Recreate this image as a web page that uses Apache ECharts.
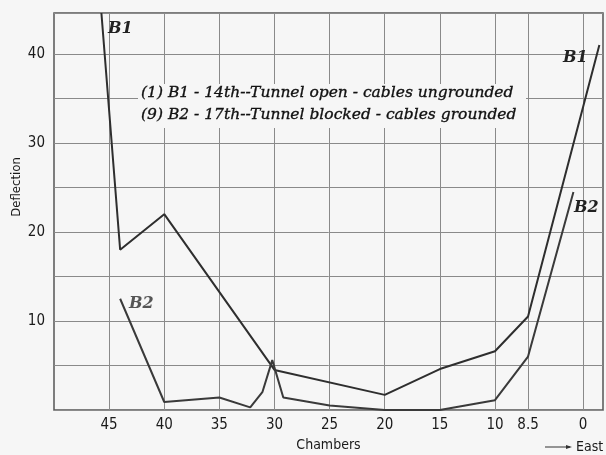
<!DOCTYPE html>
<html><head><meta charset="utf-8">
<script src="https://cdn.jsdelivr.net/npm/echarts@6/dist/echarts.min.js"></script>
<style>html,body{margin:0;padding:0;background:#f6f6f6}#chart{width:606px;height:455px}</style>
</head><body><div id="chart"></div>
<script>
// Chamber numbers labelled along the bottom axis (west -> east)
const chamberTicks = [45, 40, 35, 30, 25, 20, 15, 10, 8.5, 0];
const deflectionLabels = [10, 20, 30, 40];

// B1 - 14th, tunnel open, cables ungrounded
const b1Chambers   = [45.7, 44, 40, 30, 20, 15, 10, 8.5, -2.5];
const b1Deflection = [44.6, 18, 22, 4.5, 1.7, 4.6, 6.6, 10.5, 41];

// B2 - 17th, tunnel blocked, cables grounded
const b2Chambers   = [44, 40, 35, 32.2, 31.1, 30.2, 29.2, 25, 20, 15, 10, 8.5, 1.5];
const b2Deflection = [12.5, 0.9, 1.4, 0.3, 2.0, 5.6, 1.4, 0.5, 0, 0, 1.1, 6.0, 24.5];

// The chamber scale is broken: uniform 5-chamber columns down to 10,
// then a short step to 8.5 and one column from 8.5 to 0.
const scaleKnots = [[50, 0], [10, 8], [8.5, 8.6], [0, 9.6]];
function chamberPos(c) {
  for (let i = 0; i < scaleKnots.length - 1; i++) {
    const [c0, p0] = scaleKnots[i], [c1, p1] = scaleKnots[i + 1];
    if (c >= c1 || i === scaleKnots.length - 2) {
      return p0 + (c0 - c) * (p1 - p0) / (c0 - c1);
    }
  }
}
const tickPos = chamberTicks.map(chamberPos);
function tickLabel(v) {
  const i = tickPos.findIndex(p => Math.abs(p - v) < 1e-6);
  return i >= 0 ? String(chamberTicks[i]) : '';
}
const toPoints = (cs, ds) => cs.map((c, i) => [chamberPos(c), ds[i]]);

const axisFont = '"Liberation Sans Narrow", "DejaVu Sans Condensed", "Roboto", sans-serif';
const serif = '"DejaVu Serif", "Liberation Serif", serif';
const gridColor = '#8a8a8a';
const noteStyle = { font: 'italic 15.5px ' + serif, fill: '#111', stroke: '#111', lineWidth: 0.35, textVerticalAlign: 'middle' };

const chart = echarts.init(document.getElementById('chart'), null, { renderer: 'canvas' });
chart.setOption({
  backgroundColor: '#f6f6f6',
  animation: false,
  grid: { left: 54, right: 3, top: 13, bottom: 45, outerBoundsMode: 'none', containLabel: false,
          show: true, borderColor: '#555', borderWidth: 1.5, backgroundColor: 'transparent' },
  xAxis: {
    type: 'value', min: 0, max: 9.96,
    axisLine: { show: false },
    axisTick: { show: false, customValues: tickPos },
    axisLabel: { customValues: tickPos, formatter: tickLabel, color: '#1a1a1a', fontFamily: axisFont, fontSize: 15, margin: 8 },
    splitLine: { show: true, lineStyle: { color: gridColor, width: 1 } },
    name: 'Chambers', nameLocation: 'middle', nameGap: 28,
    nameTextStyle: { color: '#1a1a1a', fontFamily: axisFont, fontSize: 14 }
  },
  yAxis: {
    type: 'value', min: 0, max: 44.6, interval: 5,
    axisLine: { show: false }, axisTick: { show: false },
    axisLabel: { formatter: v => deflectionLabels.includes(v) ? String(v) : '', color: '#1a1a1a', fontFamily: axisFont, fontSize: 15, margin: 9 },
    splitLine: { show: true, lineStyle: { color: gridColor, width: 1 } }
  },
  series: [
    { name: 'B1', type: 'line', data: toPoints(b1Chambers, b1Deflection), symbol: 'none', clip: true,
      lineStyle: { color: '#2e2e2e', width: 2 }, z: 3 },
    { name: 'B2', type: 'line', data: toPoints(b2Chambers, b2Deflection), symbol: 'none', clip: true,
      lineStyle: { color: '#3a3a3a', width: 2 }, z: 3 }
  ],
  graphic: [
    { type: 'text', x: 17, y: 187, rotation: Math.PI / 2,
      style: { text: 'Deflection', font: '13px ' + axisFont, fill: '#1a1a1a', textAlign: 'center', textVerticalAlign: 'middle' }, z: 11 },
    { type: 'rect', shape: { x: 138, y: 84, width: 388, height: 44 }, style: { fill: '#f6f6f6' }, z: 10 },
    { type: 'text', x: 141, y: 93, style: Object.assign({ text: '(1) B1 - 14th--Tunnel open - cables ungrounded' }, noteStyle), z: 11 },
    { type: 'text', x: 141, y: 115, style: Object.assign({ text: '(9) B2 - 17th--Tunnel blocked - cables grounded' }, noteStyle), z: 11 },
    { type: 'text', x: 108, y: 29, style: { text: 'B1', font: 'italic bold 16px ' + serif, fill: '#222', textVerticalAlign: 'middle' }, z: 11 },
    { type: 'text', x: 563, y: 58, style: { text: 'B1', font: 'italic bold 16px ' + serif, fill: '#222', textVerticalAlign: 'middle' }, z: 11 },
    { type: 'text', x: 129, y: 304, style: { text: 'B2', font: 'italic bold 16px ' + serif, fill: '#555', textVerticalAlign: 'middle' }, z: 11 },
    { type: 'text', x: 574, y: 208, style: { text: 'B2', font: 'italic bold 16px ' + serif, fill: '#222', textVerticalAlign: 'middle' }, z: 11 },
    { type: 'line', shape: { x1: 545, y1: 447, x2: 570, y2: 447 }, style: { stroke: '#333', lineWidth: 1 }, z: 11 },
    { type: 'polygon', shape: { points: [[572, 447], [566, 445], [566, 449]] }, style: { fill: '#333' }, z: 11 },
    { type: 'text', x: 576, y: 447, style: { text: 'East', font: '14px ' + axisFont, fill: '#1a1a1a', textVerticalAlign: 'middle' }, z: 11 }
  ]
});
</script></body></html>
